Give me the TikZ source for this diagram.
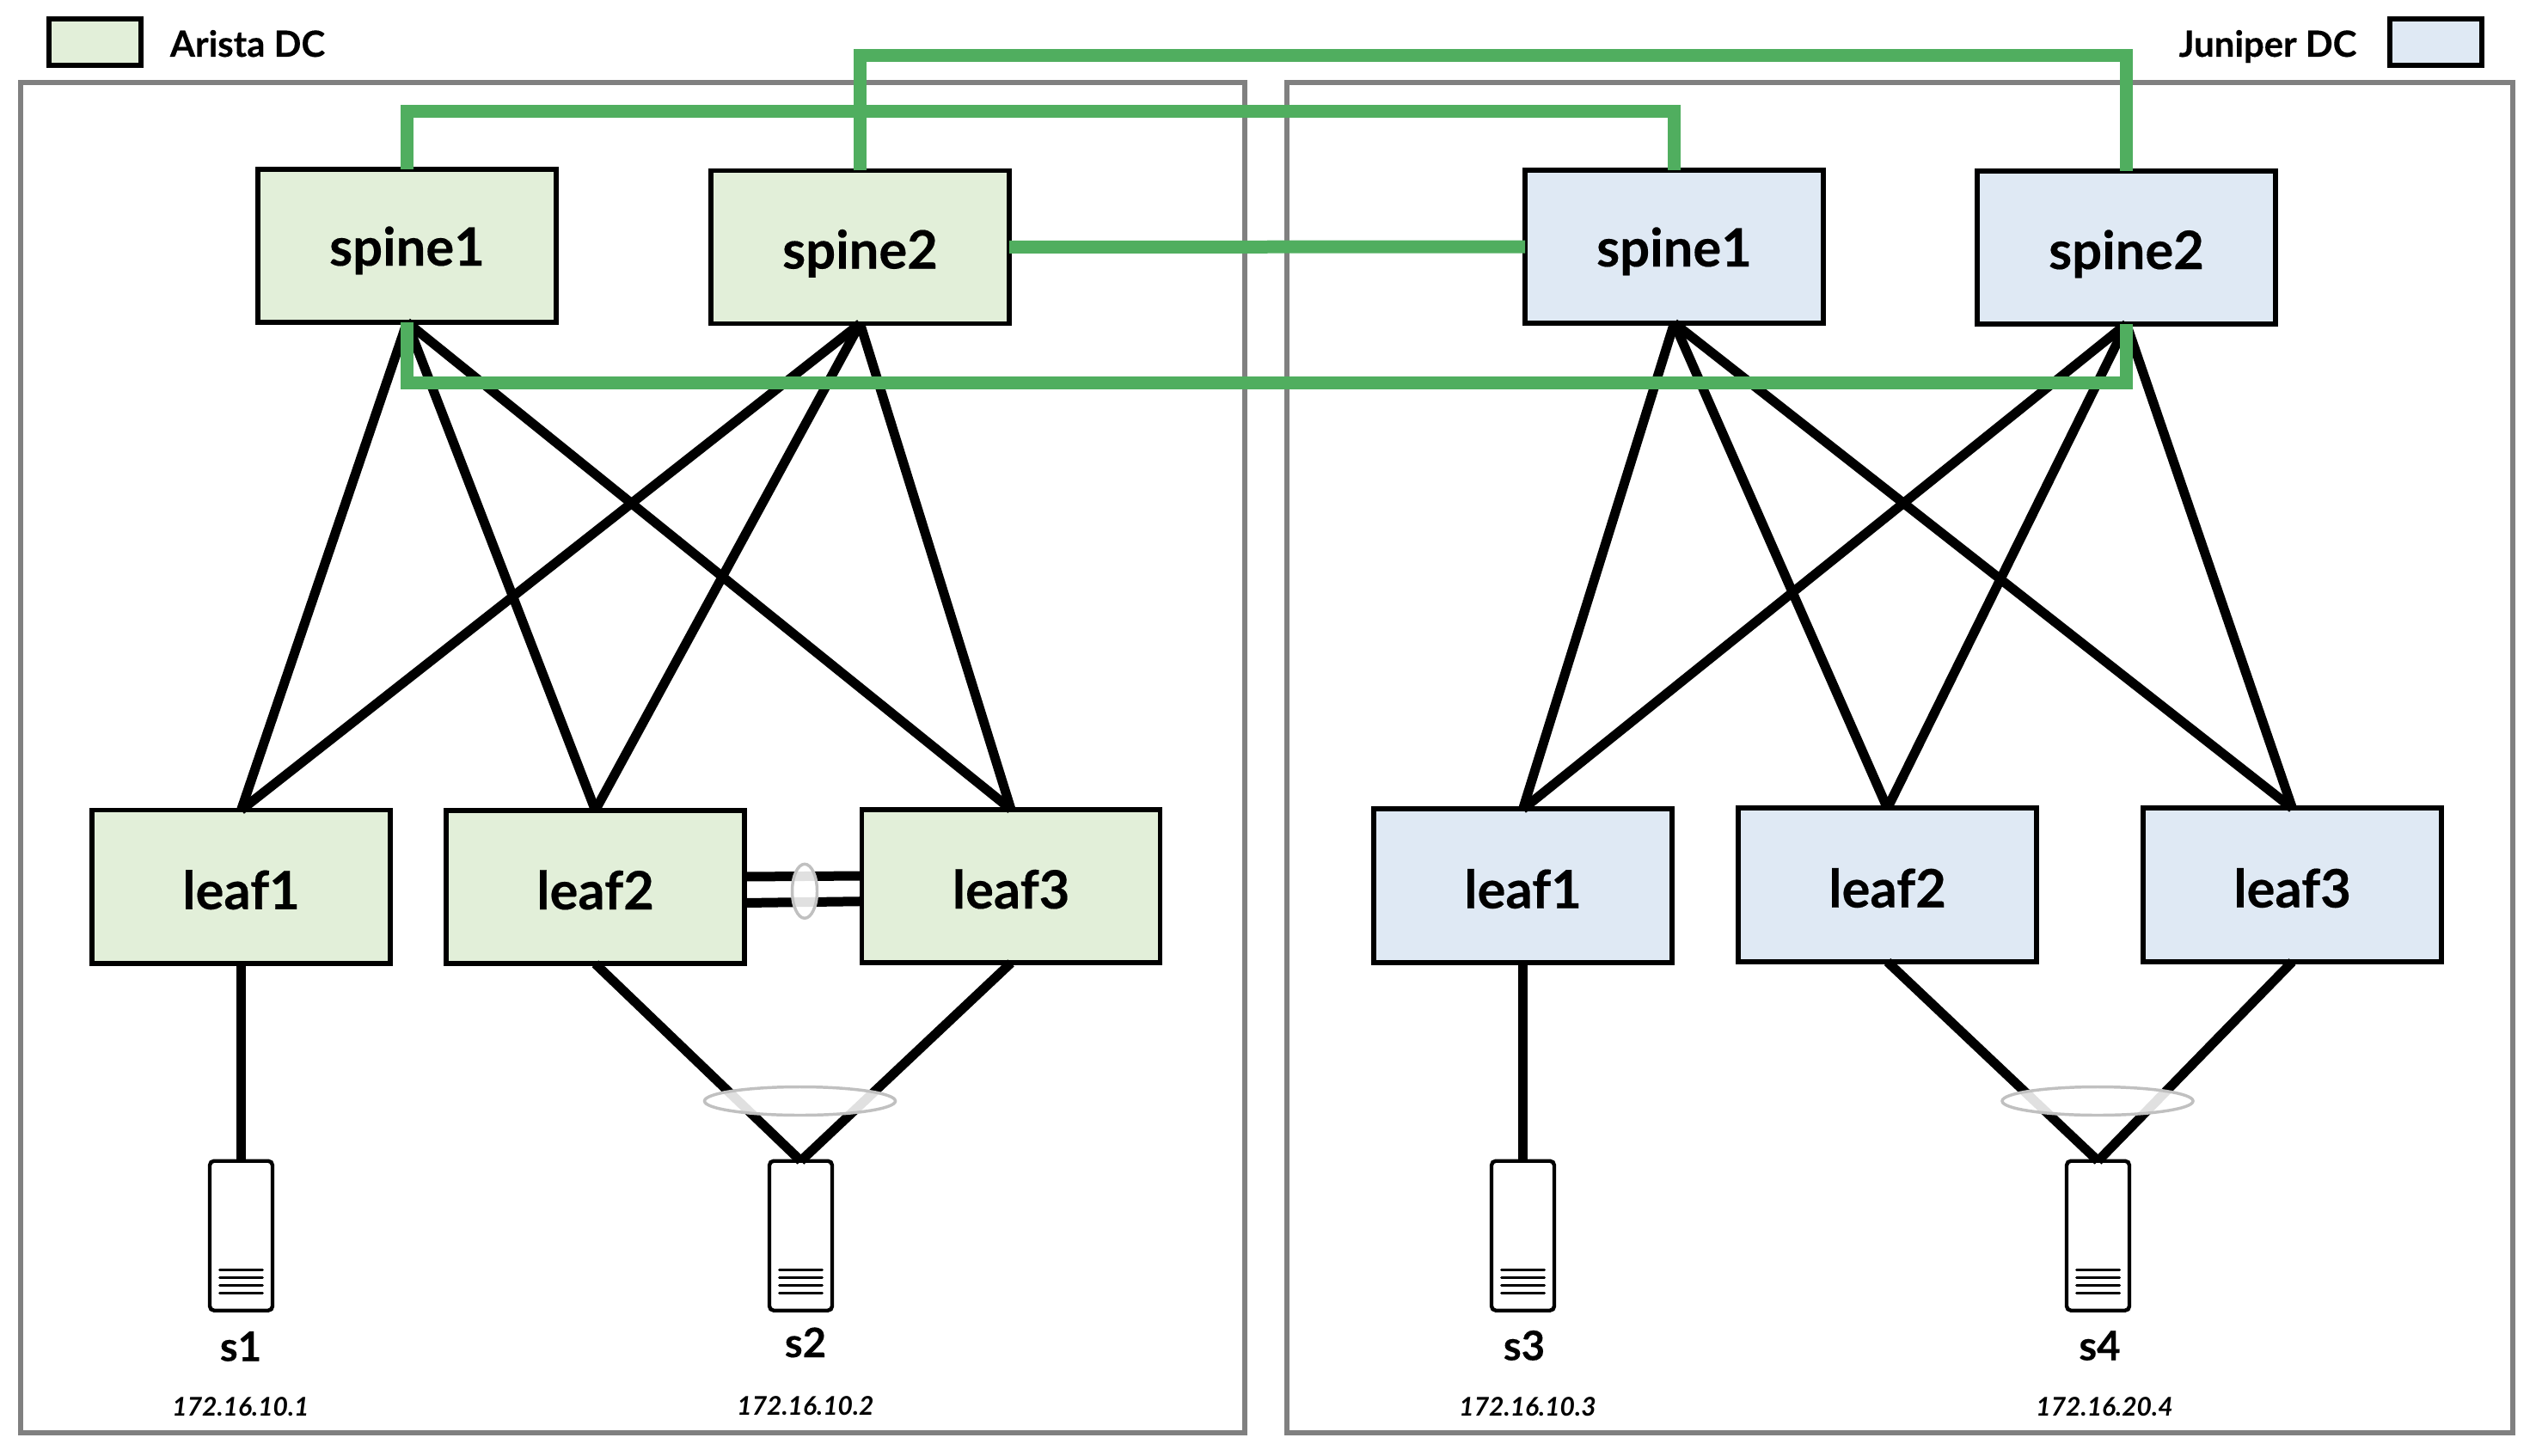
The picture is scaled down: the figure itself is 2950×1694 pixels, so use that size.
\documentclass[tikz,border=0pt]{standalone}
\usepackage{fontspec}
\setmainfont{Lato}[BoldFeatures={FakeBold=0.3}]
\usetikzlibrary{calc,shapes.geometric}

\definecolor{aristafill}{HTML}{E2EFD9}
\definecolor{juniperfill}{HTML}{DFE9F4}
\definecolor{peerlink}{HTML}{50AE5F}
\definecolor{framegray}{HTML}{808080}
\definecolor{laggray}{HTML}{C0C0C0}

\tikzset{
  devbox/.style={draw=black,line width=4.4pt,minimum width=260.25pt,minimum height=134pt,inner sep=0pt,outer sep=0pt,font=\fontsize{46.1pt}{50pt}\selectfont\bfseries},
  spinebox/.style={devbox,minimum height=133.5pt,text height=34.5pt,text depth=0pt},
  leafbox/.style={devbox,text height=39pt,text depth=0pt},
  legendbox/.style={draw=black,line width=4.4pt,minimum width=80.25pt,minimum height=40.5pt,inner sep=0pt,outer sep=0pt},
  srvbox/.style={draw=black,line width=3.3pt,rounded corners=3.75pt,minimum width=54.75pt,minimum height=130.5pt,inner sep=0pt,outer sep=0pt},
  srvbars/.style={line width=2.2pt,line cap=round},
  dcframe/.style={draw=framegray,line width=4.2pt},
  uplink/.style={line width=8.25pt},
  peer/.style={draw=peerlink,line width=11.25pt},
  lagbig/.style={ellipse,draw=laggray,line width=2.6pt,fill=white,fill opacity=.88,minimum width=166.5pt,minimum height=24.75pt,inner sep=0pt},
  lagsmall/.style={ellipse,draw=laggray,line width=2.6pt,fill=white,fill opacity=.88,minimum width=21.75pt,minimum height=47.25pt,inner sep=0pt},
  legendtxt/.style={anchor=base,inner sep=0pt,font=\fontsize{31.4pt}{34pt}\selectfont\bfseries},
  srvtxt/.style={anchor=base,inner sep=0pt,font=\fontsize{35.5pt}{38pt}\selectfont\bfseries},
  iptxt/.style={anchor=base,inner sep=0pt,font=\fontsize{22.5pt}{25pt}\selectfont\bfseries\itshape},
}

\begin{document}
\begin{tikzpicture}[x=0.75pt,y=0.75pt,yscale=-1,xscale=1]
\useasboundingbox (0,0) rectangle (2950,1694);

% DC frames
\draw[dcframe] (24,96) rectangle (1448,1667);
\draw[dcframe] (1497,96) rectangle (2923,1667);

% Legend
\node[legendbox,fill=aristafill] (legenda) at (110.5,49) {};
\node[legendbox,fill=juniperfill] (legendb) at (2833.5,49) {};
\node[legendtxt] (legendatxt) at (288,66) {Arista DC};
\node[legendtxt] (legendbtxt) at (2638,66) {Juniper DC};

% Spines
\node[spinebox,fill=aristafill] (spine1a) at (473.5,286) {spine1};
\node[spinebox,fill=aristafill,text height=37.5pt] (spine2a) at (1000.5,287.5) {spine2};
\node[spinebox,fill=juniperfill] (spine1b) at (1947.5,287) {spine1};
\node[spinebox,fill=juniperfill,text height=37.5pt] (spine2b) at (2473.5,288) {spine2};

% Leaves
\node[leafbox,fill=aristafill] (leaf1a) at (280.5,1031.8) {leaf1};
\node[leafbox,fill=aristafill] (leaf2a) at (692.5,1032) {leaf2};
\node[leafbox,fill=aristafill] (leaf3a) at (1176,1031) {leaf3};
\node[leafbox,fill=juniperfill] (leaf1b) at (1771.5,1030.7) {leaf1};
\node[leafbox,fill=juniperfill] (leaf2b) at (2195.5,1029.7) {leaf2};
\node[leafbox,fill=juniperfill] (leaf3b) at (2666.5,1029.7) {leaf3};

% Servers
\node[srvbox] (s1) at (280.5,1437.7) {};
\node[srvbox] (s2) at (931.5,1437.7) {};
\node[srvbox] (s3) at (1771.5,1437.7) {};
\node[srvbox] (s4) at (2440.5,1437.7) {};
\foreach \srv in {s1,s2,s3,s4}
  \foreach \dy in {-47,-38,-29,-20}
    \draw[srvbars] ($(\srv.south)+(-25,\dy)$) -- ++(50,0);

% Server labels
\node[srvtxt] (s1txt) at (280,1583.5) {s1};
\node[srvtxt] (s2txt) at (937,1579) {s2};
\node[srvtxt] (s3txt) at (1773,1582.5) {s3};
\node[srvtxt] (s4txt) at (2442.5,1582.5) {s4};
\node[iptxt] (ip1) at (280,1647) {172.16.10.1};
\node[iptxt] (ip2) at (937,1646) {172.16.10.2};
\node[iptxt] (ip3) at (1777,1647) {172.16.10.3};
\node[iptxt] (ip4) at (2448,1647) {172.16.20.4};

% Fabric links
\foreach \sp in {spine1a,spine2a}
  \foreach \lf in {leaf1a,leaf2a,leaf3a}
    \draw[uplink] (\sp.south) -- (\lf.north);
\foreach \sp in {spine1b,spine2b}
  \foreach \lf in {leaf1b,leaf2b,leaf3b}
    \draw[uplink] (\sp.south) -- (\lf.north);

% Server links
\draw[uplink] (leaf1a.south) -- (s1.north);
\draw[uplink] (leaf2a.south) -- (s2.north);
\draw[uplink] (leaf3a.south) -- (s2.north);
\draw[uplink] (leaf1b.south) -- (s3.north);
\draw[uplink] (leaf2b.south) -- (s4.north);
\draw[uplink] (leaf3b.south) -- (s4.north);

% MLAG peer links
\draw[uplink] ($(leaf2a.east)+(0,-12)$) -- ($(leaf3a.west)+(0,-12)$);
\draw[uplink] ($(leaf2a.east)+(0,18.5)$) -- ($(leaf3a.west)+(0,17.7)$);

% Inter DC links
\draw[peer] (spine1a.north) -- ++(0,-67.5) -| (spine1b.north);
\draw[peer] (spine2a.north) -- ++(0,-133.5) -| (spine2b.north);
\draw[peer] (spine2a.east) -- (spine1b.west);
\draw[peer] (spine1a.south) -- ++(0,70.5) -| (spine2b.south);

% LAG rings
\node[lagsmall] (lagmlag) at (936,1036.8) {};
\node[lagbig] (lagsa) at (930.5,1281) {};
\node[lagbig] (lagsb) at (2440,1281) {};

\end{tikzpicture}
\end{document}
